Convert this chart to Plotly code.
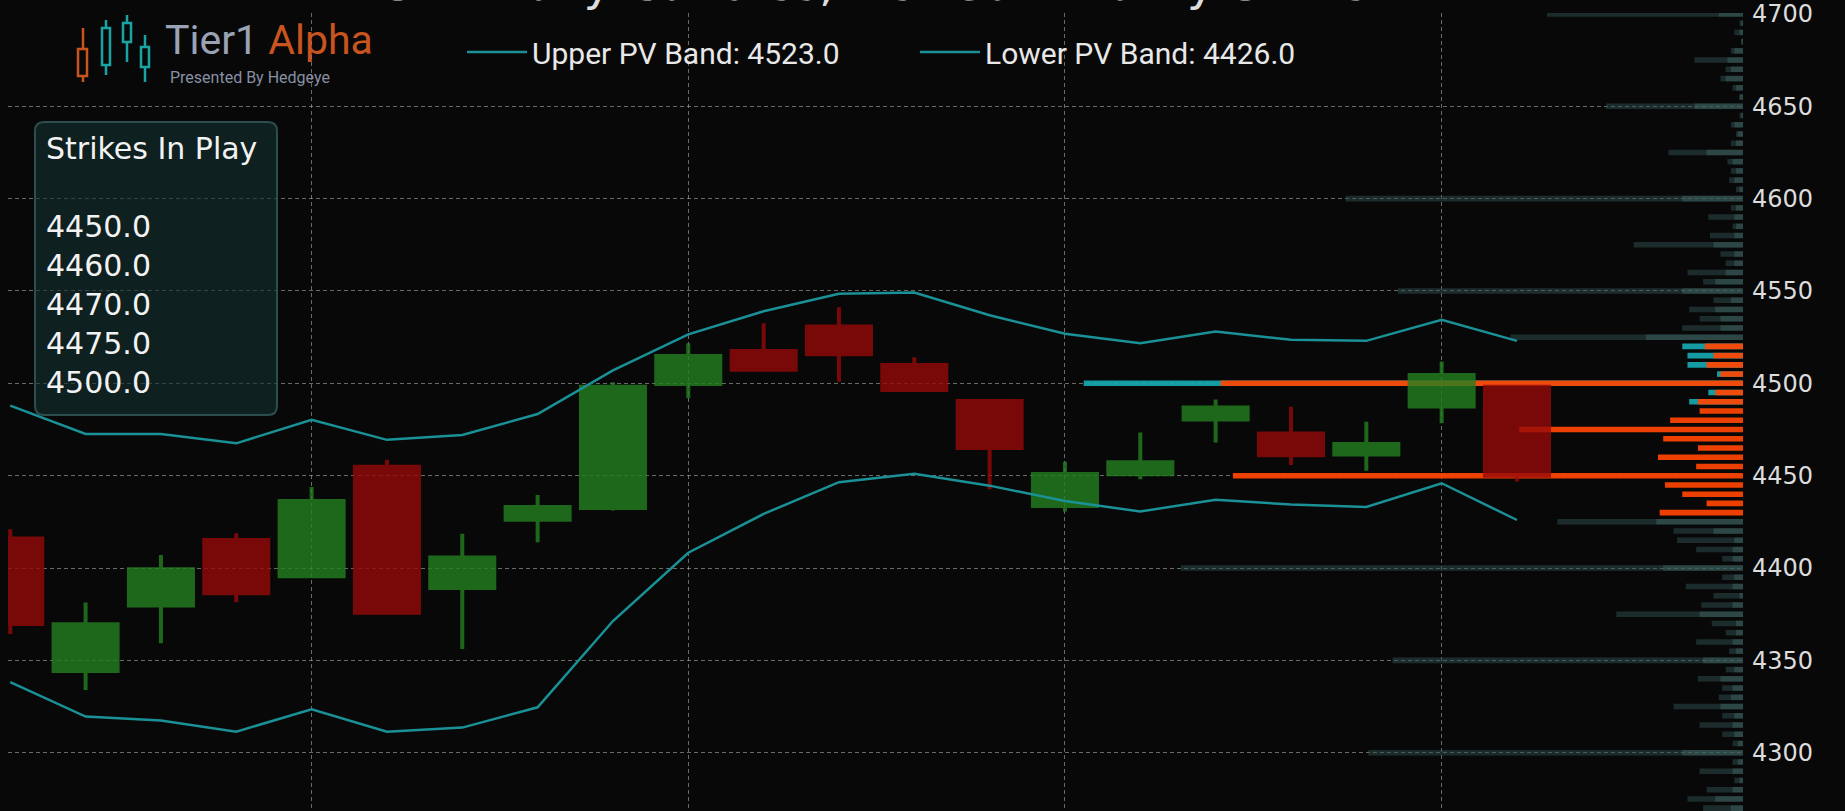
import plotly.graph_objects as go

# ---- daily candles (session index) ----
session = list(range(21))
open_px = [4416.0, 4344.3, 4379.7, 4415.2, 4395.5, 4454.8, 4389.2, 4426.1, 4432.5, 4499.7, 4517.5,
           4530.7, 4509.9, 4490.4, 4433.6, 4450.8, 4480.4, 4472.9, 4461.5, 4487.4, 4498.2]
high_px = [4421.0, 4381.3, 4407.1, 4418.8, 4443.9, 4458.6, 4418.5, 4439.5, 4500.6, 4521.7, 4532.5,
           4541.2, 4514.1, 4490.8, 4457.6, 4473.4, 4491.3, 4487.3, 4479.2, 4511.8, 4498.5]
low_px = [4364.3, 4334.0, 4359.3, 4381.5, 4395.2, 4375.5, 4356.1, 4414.0, 4431.2, 4491.9, 4507.0,
          4500.9, 4495.5, 4442.7, 4430.6, 4448.1, 4467.9, 4455.8, 4452.7, 4478.4, 4446.8]
close_px = [4369.7, 4369.6, 4399.4, 4386.4, 4436.3, 4375.8, 4405.7, 4433.1, 4498.1, 4514.8, 4507.3,
            4515.7, 4496.4, 4465.0, 4450.9, 4457.3, 4486.9, 4461.0, 4467.1, 4504.5, 4449.9]

# ---- PV bands ----
upper_pv = [4487.9, 4472.6, 4472.6, 4467.5, 4480.3, 4469.4, 4472.0, 4483.4, 4507.0, 4526.5, 4539.0,
            4548.5, 4549.2, 4536.9, 4526.8, 4521.7, 4528.0, 4523.6, 4523.0, 4534.4, 4523.0]
lower_pv = [4338.2, 4319.6, 4317.4, 4311.4, 4323.5, 4311.4, 4313.6, 4324.6, 4371.3, 4408.3, 4429.3,
            4446.5, 4451.0, 4444.6, 4436.3, 4430.6, 4437.0, 4434.4, 4433.1, 4445.9, 4426.0]

# ---- gamma by strike ----
strikes = [4700, 4695, 4690, 4685, 4680, 4675, 4670, 4665, 4660, 4655,
           4650, 4645, 4640, 4635, 4630, 4625, 4620, 4615, 4610, 4605,
           4600, 4595, 4590, 4585, 4580, 4575, 4570, 4565, 4560, 4555,
           4550, 4545, 4540, 4535, 4530, 4525, 4520, 4515, 4510, 4505,
           4500, 4495, 4490, 4485, 4480, 4475, 4470, 4465, 4460, 4455,
           4450, 4445, 4440, 4435, 4430, 4425, 4420, 4415, 4410, 4405,
           4400, 4395, 4390, 4385, 4380, 4375, 4370, 4365, 4360, 4355,
           4350, 4345, 4340, 4335, 4330, 4325, 4320, 4315, 4310, 4305,
           4300, 4295, 4290, 4285, 4280, 4275, 4270]
gamma_total = [11.3, 0.2, 0.5, 0.1, 0.7, 2.8, 1.0, 1.3, 0.6, 0.2,
               7.9, 0.2, 0.7, 0.4, 0.7, 4.3, 0.9, 0.7, 0.8, 0.4,
               22.9, 0.7, 2.0, 0.6, 1.9, 6.3, 1.3, 1.0, 3.2, 2.3,
               19.9, 1.7, 3.1, 2.5, 3.5, 13.4, 3.5, 3.2, 3.2, 1.5,
               38.0, 2.0, 3.1, 0.0, 0.0, 0.0, 0.0, 0.0, 0.0, 0.0,
               0.0, 0.0, 0.0, 0.0, 0.0, 10.7, 4.0, 3.8, 2.7, 1.2,
               32.4, 1.2, 3.3, 1.7, 2.4, 7.3, 1.8, 1.0, 2.7, 0.8,
               20.2, 1.0, 2.6, 1.2, 1.4, 4.0, 1.2, 2.5, 1.2, 0.6,
               21.6, 0.6, 2.5, 0.5, 2.1, 3.2, 2.3]
gamma_recent = [1.4, 0.1, 0.2, 0.1, 0.5, 0.9, 0.7, 1.0, 0.4, 0.2,
                2.8, 0.1, 0.5, 0.3, 0.4, 2.1, 0.6, 0.4, 0.5, 0.2,
                3.5, 0.4, 0.5, 0.4, 0.5, 1.7, 0.5, 0.5, 1.0, 1.6,
                3.5, 0.7, 1.6, 1.3, 1.3, 5.6, 2.2, 1.7, 2.1, 1.3,
                30.1, 1.6, 2.6, 2.5, 4.2, 12.9, 4.6, 2.6, 4.9, 2.7,
                29.4, 4.5, 3.5, 2.1, 4.8, 5.0, 1.7, 0.5, 0.6, 0.6,
                4.6, 0.5, 0.6, 0.2, 0.6, 2.5, 0.4, 0.4, 0.6, 0.4,
                2.3, 0.5, 1.3, 0.6, 0.7, 1.3, 0.5, 0.6, 0.5, 0.3,
                3.5, 0.3, 0.6, 0.2, 0.6, 1.6, 0.7]

strikes_in_play = [4450.0, 4460.0, 4470.0, 4475.0, 4500.0]

BG = '#080808'
BAND = '#1a9196'
GRID = 'rgba(185,185,185,0.55)'

# plot area in pixels: x 8..1743, y 13..811
def px(x):
    return (x - 8) / 1735

def py(y):
    return (811 - y) / 798

lo, hi = lower_pv[-1], upper_pv[-1]
in_band = [lo <= s <= hi for s in strikes]
total_colors = ['rgba(23,168,176,0.92)' if b else 'rgba(47,79,79,0.5)' for b in in_band]
recent_colors = ['rgba(255,69,0,0.93)' if b else 'rgba(62,98,98,0.5)' for b in in_band]

fig = go.Figure()

fig.add_trace(go.Bar(x=gamma_total, y=strikes, orientation='h', width=3,
                     marker=dict(color=total_colors, line_width=0),
                     xaxis='x', yaxis='y', showlegend=False, hoverinfo='skip'))
fig.add_trace(go.Bar(x=gamma_recent, y=strikes, orientation='h', width=3,
                     marker=dict(color=recent_colors, line_width=0),
                     xaxis='x', yaxis='y', showlegend=False, hoverinfo='skip'))

fig.add_trace(go.Candlestick(
    x=session, open=open_px, high=high_px, low=low_px, close=close_px,
    xaxis='x2', yaxis='y', opacity=0.8, showlegend=False,
    increasing=dict(line=dict(color='rgb(36,128,34)', width=4), fillcolor='rgb(36,128,34)'),
    decreasing=dict(line=dict(color='rgb(150,10,10)', width=4), fillcolor='rgb(150,10,10)'),
))

fig.add_trace(go.Scatter(x=session, y=upper_pv, mode='lines', xaxis='x2', yaxis='y',
                         line=dict(color=BAND, width=2.5),
                         name=f'Upper PV Band: {upper_pv[-1]:.1f}'))
fig.add_trace(go.Scatter(x=session, y=lower_pv, mode='lines', xaxis='x2', yaxis='y',
                         line=dict(color=BAND, width=2.5),
                         name=f'Lower PV Band: {lower_pv[-1]:.1f}'))

# logo icon (decoration)
icon = [(83, 28, 82, 78, 49, 87, 76, '#c8541f'),
        (106, 20, 75, 102, 28, 110, 65, '#1aa3a3'),
        (127, 15, 62, 123, 23, 131, 42, '#1aa3a3'),
        (145, 35, 82, 141, 47, 149, 67, '#1aa3a3')]
shapes = []
for cx, w0, w1, bx0, by0, bx1, by1, col in icon:
    shapes.append(dict(type='line', xref='paper', yref='paper', x0=px(cx), x1=px(cx),
                       y0=py(w0), y1=py(w1), line=dict(color=col, width=2.5)))
    shapes.append(dict(type='rect', xref='paper', yref='paper', x0=px(bx0), x1=px(bx1),
                       y0=py(by0), y1=py(by1), fillcolor=BG, line=dict(color=col, width=2.5)))

# rounded panel behind the strike list
x0, x1, yt, yb = px(35), px(277), py(122), py(415)
rx, ry = 9 / 1735, 9 / 798
panel = (f'M {x0 + rx},{yt} L {x1 - rx},{yt} Q {x1},{yt} {x1},{yt - ry} '
         f'L {x1},{yb + ry} Q {x1},{yb} {x1 - rx},{yb} L {x0 + rx},{yb} '
         f'Q {x0},{yb} {x0},{yb + ry} L {x0},{yt - ry} Q {x0},{yt} {x0 + rx},{yt} Z')
shapes.append(dict(type='path', xref='paper', yref='paper', path=panel,
                   fillcolor='rgba(20,46,46,0.62)', line=dict(color='rgba(52,88,88,0.85)', width=2)))

annotations = [
    dict(text='SPX Daily Candles, Net Gamma By Strike', xref='paper', yref='paper',
         x=0.5, y=1, xanchor='center', yanchor='bottom', yshift=0, showarrow=False,
         font=dict(family='DejaVu Sans', size=48, color='#dddddd')),
    dict(text="<span style='color:#9aa3b5'>Tier1</span> <span style='color:#c8541f'>Alpha</span>",
         xref='paper', yref='paper', x=px(163), y=py(40), xanchor='left', yanchor='middle',
         showarrow=False, font=dict(family='Roboto', size=41)),
    dict(text='Presented By Hedgeye', xref='paper', yref='paper', x=px(168), y=py(77),
         xanchor='left', yanchor='middle', showarrow=False,
         font=dict(family='Roboto', size=16, color='#8790a3')),
    dict(text='Strikes In Play<br><br>' + '<br>'.join(f'{s:.1f}' for s in strikes_in_play),
         xref='paper', yref='paper', x=px(45), y=py(130), xanchor='left', yanchor='top',
         align='left', showarrow=False, borderpad=0,
         font=dict(family='DejaVu Sans', size=30, color='#f2f2f2')),
]

fig.update_layout(
    template='none',
    width=1845, height=811, autosize=False,
    paper_bgcolor=BG, plot_bgcolor=BG,
    margin=dict(l=8, r=102, t=13, b=0),
    barmode='overlay', boxgap=0.15, boxgroupgap=0,
    xaxis=dict(range=[100, 0], visible=False, fixedrange=True),
    xaxis2=dict(overlaying='x', range=[-0.03, 23], tick0=4, dtick=5, showgrid=True,
                gridcolor=GRID, griddash='4px,3px', gridwidth=1, zeroline=False,
                showticklabels=False, showline=False, ticks='',
                rangeslider=dict(visible=False)),
    yaxis=dict(side='right', range=[4268.45, 4700.5], tick0=4300, dtick=50,
               showgrid=True, gridcolor=GRID, griddash='4px,3px', gridwidth=1,
               zeroline=False, showline=False, ticks='', ticklabelstandoff=8,
               tickfont=dict(family='DejaVu Sans', size=24, color='#dcdcdc')),
    legend=dict(orientation='h', x=px(462), y=py(52), xanchor='left', yanchor='middle',
                bgcolor='rgba(0,0,0,0)', entrywidth=378, entrywidthmode='pixels',
                itemwidth=60,
                font=dict(family='Roboto', size=30, color='#e8e8e8')),
    shapes=shapes,
    annotations=annotations,
    hovermode=False,
)

fig.write_html("out.html", config={'displayModeBar': False},
               post_script="document.body.style.margin='0';document.body.style.background='#080808';")
